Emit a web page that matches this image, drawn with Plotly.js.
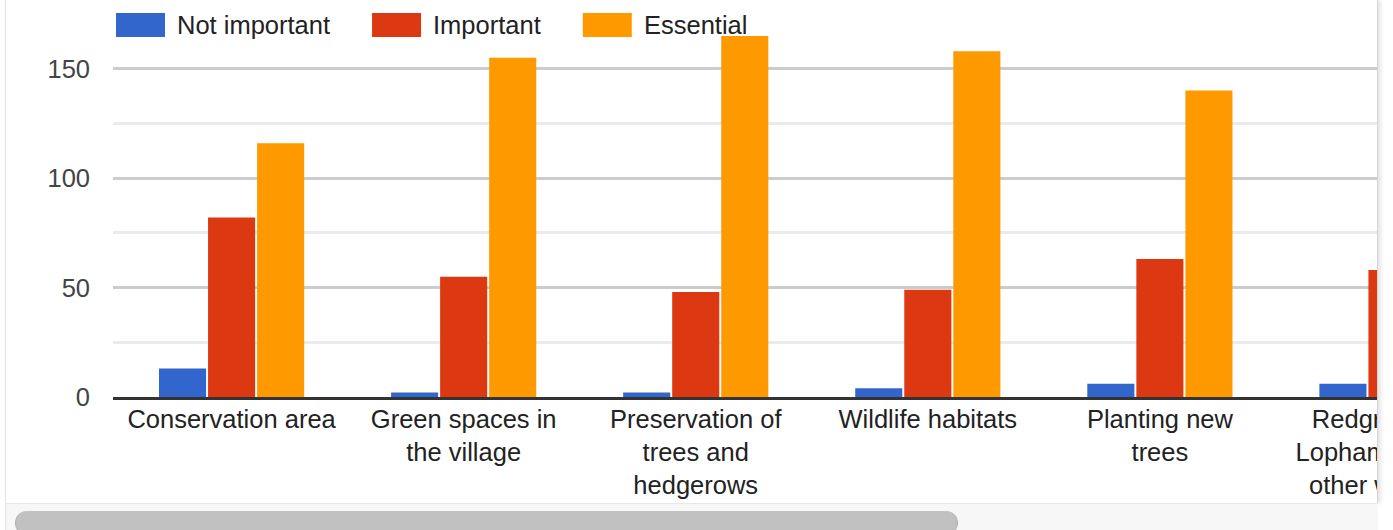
<!DOCTYPE html>
<html>
<head>
<meta charset="utf-8">
<script src="https://cdn.plot.ly/plotly-3.0.1.min.js"></script>
<style>
  html, body { margin: 0; padding: 0; background: #ffffff; width: 1393px; height: 530px; overflow: hidden; }
  #frame { position: absolute; left: 5px; top: 0; width: 1371px; height: 503px;
           border-left: 1px solid #e3e3e3; border-right: 1px solid #d4d4d4;
           overflow: hidden; background: #fff; box-shadow: 3px 0 4px rgba(0,0,0,0.10); }
  #track { position: absolute; left: 5px; top: 503px; width: 1372px; height: 27px;
           background: #f7f7f7; border-top: 1px solid #e8e8e8; border-left: 1px solid #e3e3e3; }
  #thumb { position: absolute; left: 9px; top: 7px; width: 941px; height: 24px;
           background: #c1c1c1; border-radius: 12px; border-left: 1px solid #b0b0b0; border-right: 1px solid #b0b0b0; }
</style>
</head>
<body>
<div id="frame"><div id="chart"></div></div>
<div id="track"><div id="thumb"></div></div>
<script>
// ---- data ----
const categories = [
  "Conservation area",
  "Green spaces in<br>the village",
  "Preservation of<br>trees and<br>hedgerows",
  "Wildlife habitats",
  "Planting new<br>trees",
  "Redgrave and<br>Lopham Fen and<br>other wetlands"
];
const seriesNames = ["Not important", "Important", "Essential"];
const notImportant = [13, 2, 2, 4, 6, 6];
const important    = [82, 55, 48, 49, 63, 58];
const essential    = [116, 155, 165, 158, 140, null];
const seriesColors = ["#3366cc", "#dc3912", "#ff9900"];

// ---- layout constants (pixels) ----
const FONT = '"Liberation Sans", Arial, sans-serif';
const FS = 25.5;
const W = 1512, H = 503;
const M = {l: 107, r: 10, t: 14, b: 106};
const PW = W - M.l - M.r, PH = H - M.t - M.b;
const px2x = px => (px - M.l) / PW;
const px2y = py => 1 - (py - M.t) / PH;

const seriesValues = [notImportant, important, essential];
const traces = seriesNames.map((name, i) => ({
  type: 'bar',
  name: name,
  x: categories,
  y: seriesValues[i],
  marker: {color: seriesColors[i]},
  hoverinfo: 'x+y+name'
}));

// ---- custom legend (wide swatches like the reference) ----
const canvas = document.createElement('canvas');
const ctx = canvas.getContext('2d');
ctx.font = FS + 'px "Liberation Sans"';
const shapes = [], annotations = [];
let cx = 110; // swatch start (chart-div px)
const boxW = 49, boxTop = 13, boxBot = 37;
seriesNames.forEach((name, i) => {
  shapes.push({type: 'rect', xref: 'paper', yref: 'paper',
    x0: px2x(cx), x1: px2x(cx + boxW), y0: px2y(boxBot), y1: px2y(boxTop),
    fillcolor: seriesColors[i], line: {width: 0}, layer: 'above'});
  const tx = cx + boxW + 10;
  annotations.push({xref: 'paper', yref: 'paper', x: px2x(tx), y: px2y(25),
    xanchor: 'left', yanchor: 'middle', showarrow: false, text: name,
    font: {family: FONT, size: FS, color: '#222'}, bgcolor: 'rgba(255,255,255,0)'});
  const tw = ctx.measureText(name).width;
  cx = tx + 2 + tw + 42;
});

const layout = {
  width: W, height: H,
  margin: M,
  paper_bgcolor: '#ffffff', plot_bgcolor: '#ffffff',
  font: {family: FONT, size: FS, color: '#222'},
  showlegend: false,
  barmode: 'group', bargap: 0.366, bargroupgap: 0.04,
  xaxis: {
    type: 'category', range: [-0.511, 5.5], fixedrange: true,
    showgrid: false, zeroline: false,
    showline: true, linecolor: '#333333', linewidth: 3,
    ticks: '', tickfont: {family: FONT, size: FS, color: '#222'},
    ticklabelstandoff: -3
  },
  yaxis: {
    range: [0, 175], fixedrange: true,
    tickmode: 'linear', tick0: 0, dtick: 50,
    showgrid: true, gridcolor: '#cccccc', gridwidth: 2.5,
    minor: {tickmode: 'linear', tick0: 0, dtick: 25, showgrid: true, gridcolor: '#ebebeb', gridwidth: 2.5},
    zeroline: false, showline: false, ticks: '',
    tickfont: {family: FONT, size: FS, color: '#444'},
    ticklabelstandoff: 22
  },
  shapes: shapes,
  annotations: annotations
};

Plotly.newPlot('chart', traces, layout, {displayModeBar: false, staticPlot: false});
</script>
</body>
</html>
